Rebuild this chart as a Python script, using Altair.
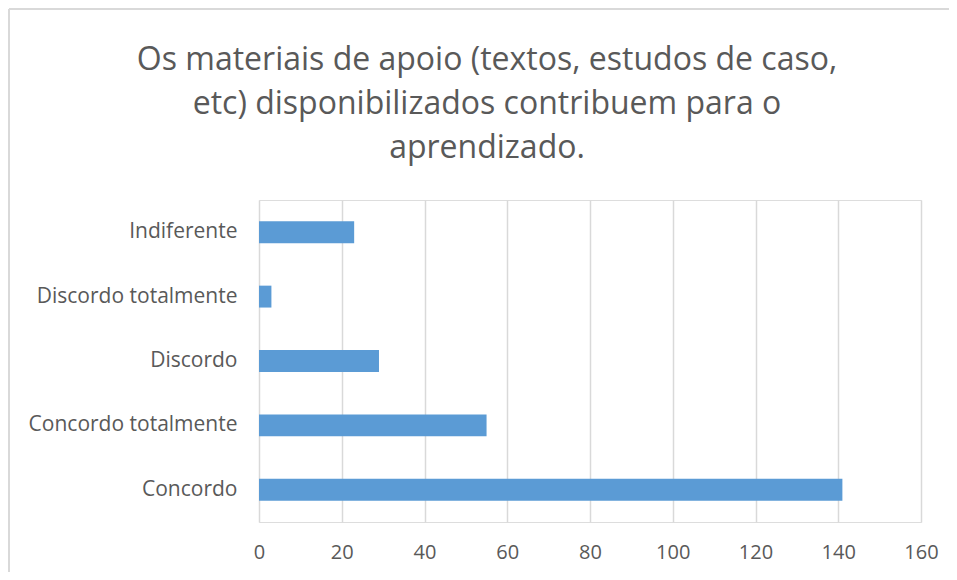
import altair as alt
import pandas as pd

categories = ["Indiferente", "Discordo totalmente", "Discordo", "Concordo totalmente", "Concordo"]
values = [23, 3, 29, 55, 141]
x_ticks = [0, 20, 40, 60, 80, 100, 120, 140, 160]

df = pd.DataFrame({"categoria": categories, "valor": values})

FONT = "Open Sans"
GREY = "#595959"
BORDER = "#d9d9d9"

bars = alt.Chart(df).mark_bar(color="#5b9bd5").encode(
    y=alt.Y("categoria:N", sort=categories,
            scale=alt.Scale(paddingInner=0.66, paddingOuter=0.33),
            axis=alt.Axis(title=None, domain=False, ticks=False, labelPadding=22,
                          labelFontSize=21, labelColor=GREY, labelFont=FONT, labelLimit=400,
                          grid=False)),
    x=alt.X("valor:Q", scale=alt.Scale(domain=[0, 160], nice=False),
            axis=alt.Axis(title=None, values=x_ticks, domain=False, ticks=False,
                          labelPadding=20, labelFontSize=20, labelColor=GREY, labelFont=FONT,
                          labelFlush=False,
                          grid=True, gridColor=BORDER, gridWidth=1.5)),
)

# outer chart border (top and left edges only, as in the reference)
border_top = alt.Chart(df).mark_rule(color=BORDER, strokeWidth=2).encode(
    x=alt.value(-250), x2=alt.value(700), y=alt.value(-191)
)
border_left = alt.Chart(df).mark_rule(color=BORDER, strokeWidth=2).encode(
    x=alt.value(-250), y=alt.value(-191), y2=alt.value(400)
)

chart = alt.layer(bars, border_top, border_left).properties(
    width=662, height=322,
    title=alt.TitleParams(
        ["Os materiais de apoio (textos, estudos de caso,",
         "etc) disponibilizados contribuem para o",
         "aprendizado."],
        fontSize=32, font=FONT, fontWeight="normal", color=GREY,
        anchor="middle", frame="group", dx=-103, offset=-157, lineHeight=44,
    ),
    autosize=alt.AutoSizeParams(type="none"),
    padding={"left": 251, "top": 192, "right": 28, "bottom": 50},
).configure_view(strokeWidth=0).configure(background="white")

chart.save("out.html", embed_options={"renderer": "svg", "actions": False})
